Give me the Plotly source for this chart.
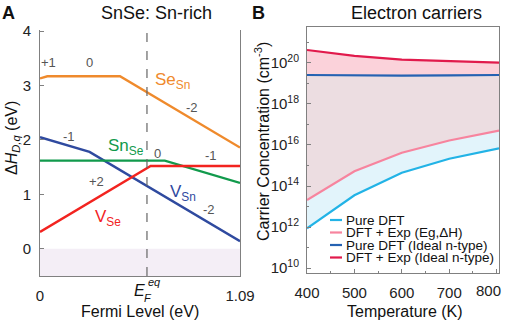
import plotly.graph_objects as go

W, H = 505, 326
FONT = "Liberation Sans, Arial, Helvetica, sans-serif"

# ---------------- Panel A data (formation energy vs Fermi level) ----------------
ef_max = 1.09
ef_eq = 0.583
se_sn_x = [0.0, 0.04, 0.436, 1.09]
se_sn_y = [3.13, 3.17, 3.17, 1.86]
v_sn_x = [0.0, 0.27, 1.09]
v_sn_y = [2.05, 1.78, 0.14]
sn_se_x = [0.0, 0.68, 1.09]
sn_se_y = [1.62, 1.62, 1.21]
v_se_x = [0.0, 0.603, 1.09]
v_se_y = [0.31, 1.52, 1.52]

# charge-state labels (x, y, text)
charge_labels = [
    (0.045, 3.42, "+1"), (0.27, 3.42, "0"), (0.83, 2.59, "-2"),
    (0.16, 2.07, "-1"), (0.64, 1.75, "0"), (0.93, 1.72, "-1"),
    (0.31, 1.23, "+2"), (0.92, 0.72, "-2"),
]
defect_labels = [
    (0.72, 3.08, "Se<sub>Sn</sub>", "#ef8a2c"),
    (0.47, 1.87, "Sn<sub>Se</sub>", "#119a4c"),
    (0.78, 1.03, "V<sub>Sn</sub>", "#2f4a9f"),
    (0.37, 0.57, "V<sub>Se</sub>", "#f2231f"),
]

# ---------------- Panel B data (carrier concentration vs T) ----------------
temperature = [400, 500, 600, 700, 805]
pure_dft_log = [11.94, 13.55, 14.65, 15.33, 15.84]
dft_exp_log = [13.32, 14.72, 15.62, 16.22, 16.70]
ideal_dft_log = [19.41, 19.38, 19.38, 19.39, 19.41]
ideal_exp_log = [20.63, 20.34, 20.16, 20.08, 20.01]
series_names = ["Pure DFT", "DFT + Exp (Eg,ΔH)", "Pure DFT (Ideal n-type)", "DFT + Exp (Ideal n-type)"]
x_ticks_b = [400, 500, 600, 700, 800]
y_tick_exps = [10, 12, 14, 16, 18, 20]
y_minor_exps = [11, 13, 15, 17, 19, 21]


def px(x):
    return x / W


def py(y):
    return 1 - y / H


fig = go.Figure()

# Panel A traces
for xs, ys, col in [
    (se_sn_x, se_sn_y, "#ef8a2c"),
    (v_sn_x, v_sn_y, "#2f4a9f"),
    (sn_se_x, sn_se_y, "#119a4c"),
    (v_se_x, v_se_y, "#f2231f"),
]:
    fig.add_trace(go.Scatter(x=xs, y=ys, mode="lines", line=dict(color=col, width=2.4),
                             xaxis="x", yaxis="y", showlegend=False, hoverinfo="skip"))

# Panel B traces with fills
b_colors = ["#22b3e6", "#f7849e", "#2562b2", "#e11a4c"]
b_fills = [None, "#e2f4fb", "#ecdde1", "#fbd2da"]
for logs, name, col, fc in zip([pure_dft_log, dft_exp_log, ideal_dft_log, ideal_exp_log],
                               series_names, b_colors, b_fills):
    kw = {}
    if fc:
        kw = dict(fill="tonexty", fillcolor=fc)
    fig.add_trace(go.Scatter(x=temperature, y=[10.0 ** v for v in logs], mode="lines", name=name,
                             line=dict(color=col, width=2.2), xaxis="x2", yaxis="y2",
                             showlegend=False, hoverinfo="skip", **kw))

axis_col = "#808080"
fig.update_layout(
    width=W, height=H, margin=dict(l=0, r=0, t=0, b=0, autoexpand=False),
    showlegend=False,
    paper_bgcolor="white", plot_bgcolor="white",
    font=dict(family=FONT, size=15, color="#222"),
    xaxis=dict(domain=[px(40), px(240)], range=[0, ef_max], showgrid=False, zeroline=False,
               showline=True, linecolor=axis_col, linewidth=1, ticks="inside", ticklen=4,
               tickcolor=axis_col, tickvals=[0, ef_max], ticktext=["0", "1.09"],
               tickfont=dict(size=15), ticklabelstandoff=6, ticklabeloverflow="allow",
               anchor="y", automargin=False),
    yaxis=dict(domain=[py(276), py(30)], range=[-0.5, 4.02], showgrid=False, zeroline=False,
               showline=True, mirror=True, linecolor=axis_col, linewidth=1, ticks="inside",
               ticklen=4, tickcolor=axis_col, tickvals=[0, 1, 2, 3, 4],
               tickfont=dict(size=15), ticklabelstandoff=5, anchor="x", automargin=False),
    xaxis2=dict(domain=[px(307), px(499)], range=[400, 805], showgrid=False, zeroline=False,
                showline=True, mirror=True, linecolor=axis_col, linewidth=1, ticks="inside",
                ticklen=4, tickcolor=axis_col, tickvals=x_ticks_b,
                ticktext=[str(t) if t < 800 else "" for t in x_ticks_b],
                minor=dict(tickvals=[450, 550, 650, 750], ticks="inside", ticklen=2, tickcolor=axis_col),
                tickfont=dict(size=15), ticklabelstandoff=6, anchor="y2", automargin=False),
    yaxis2=dict(domain=[py(273), py(27)], type="log", range=[9.76, 21.75], showgrid=False,
                zeroline=False, showline=True, mirror=True, linecolor=axis_col, linewidth=1,
                ticks="inside", ticklen=4, tickcolor=axis_col,
                tickvals=[10.0 ** e for e in y_tick_exps],
                ticktext=["10<sup>%d</sup>" % e for e in y_tick_exps],
                minor=dict(tickvals=[10.0 ** e for e in y_minor_exps], ticks="inside",
                           ticklen=2, tickcolor=axis_col),
                tickfont=dict(size=15), ticklabelstandoff=4, anchor="x2", automargin=False),
)

# Panel A: shaded negative region and dashed Fermi-level line
fig.add_shape(type="rect", xref="x", yref="y", x0=0, x1=ef_max, y0=-0.5, y1=0,
              fillcolor="#f4eef6", line=dict(width=0), layer="below")
fig.add_shape(type="line", xref="x", yref="y", x0=ef_eq, x1=ef_eq, y0=-0.5, y1=4.02,
              line=dict(color="#666", width=1.2, dash="dash"))

ann = []


def add_text(x, y, text, size, color="#111", xref="paper", yref="paper", xanchor="center",
             xshift=0, angle=0):
    ann.append(dict(x=x, y=y, xref=xref, yref=yref, text=text, showarrow=False,
                    xanchor=xanchor, yanchor="middle", xshift=xshift, textangle=angle,
                    font=dict(family=FONT, size=size, color=color)))


for x, y, t in charge_labels:
    add_text(x, y, t, 13, "#555", xref="x", yref="y")
for x, y, t, c in defect_labels:
    add_text(x, y, t, 17, c, xref="x", yref="y")

# E_F^eq tick label
add_text(ef_eq, py(290), "<i>E</i>", 16, xref="x", xshift=-7)
add_text(ef_eq, py(298), "<i>F</i>", 11, xref="x", xshift=1)
add_text(ef_eq, py(282), "<i>eq</i>", 11, xref="x", xshift=8)

# last temperature tick label, pulled inside the canvas as in the original
add_text(px(488), py(290), str(x_ticks_b[-1]), 15, color="#222")

# Titles, panel letters, axis titles
add_text(px(8), py(13), "<b>A</b>", 18)
add_text(px(258), py(13), "<b>B</b>", 18)
add_text(px(156), py(13), "SnSe: Sn-rich", 18)
add_text(px(416), py(13), "Electron carriers", 18)
add_text(px(140), py(311), "Fermi Level (eV)", 16)
add_text(px(405), py(311), "Temperature (K)", 16)
add_text(px(12), py(138), "Δ<i>H</i><sub><i>D,q</i></sub> (eV)", 16, angle=-90)
add_text(px(262), py(142), "Carrier Concentration (cm<sup>-3</sup>)", 16, angle=-90)

# Compact legend for panel B
leg_y = [220, 232.5, 245, 257.5]
for name, col, yy in zip(series_names, b_colors, leg_y):
    fig.add_shape(type="line", xref="paper", yref="paper", x0=px(330), x1=px(342),
                  y0=py(yy), y1=py(yy), line=dict(color=col, width=2.2))
    add_text(px(344), py(yy), name, 13.5, xanchor="left")

fig.update_layout(annotations=ann)
fig.write_html("out.html", config={"displayModeBar": False},
               post_script="document.body.style.margin='0px';")
